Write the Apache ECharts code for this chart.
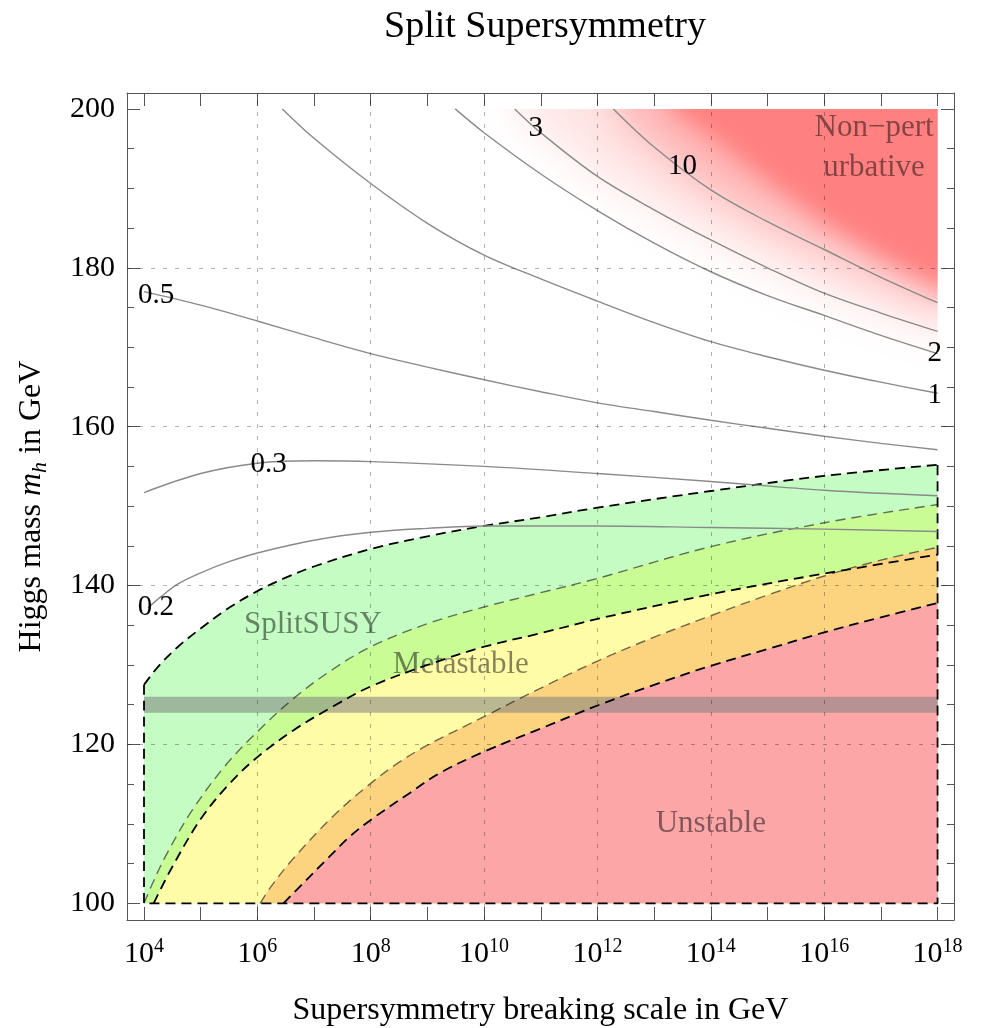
<!DOCTYPE html>
<html>
<head>
<meta charset="utf-8">
<title>Split Supersymmetry</title>
<script src="https://cdn.jsdelivr.net/npm/echarts@6.0.0/dist/echarts.min.js"></script>
<style>
  html, body { margin: 0; padding: 0; background: #fff; }
  #chart { width: 987px; height: 1028px; }
</style>
</head>
<body>
<div id="chart"></div>
<script>
const FONT = '"Liberation Serif", "Times New Roman", Times, serif';

// x is log10 of the breaking scale (GeV), y is m_h (GeV)
const X_MIN = 3.7, X_MAX = 18.29;
const Y_MIN = 97.9, Y_MAX = 202.0;

const xTickValues = [4, 5, 6, 7, 8, 9, 10, 11, 12, 13, 14, 15, 16, 17, 18];
const xLabelValues = [4, 6, 8, 10, 12, 14, 16, 18];
const xGridValues = [6, 8, 10, 12, 14, 16];
const yMajorValues = [100, 120, 140, 160, 180, 200];
const yMinorValues = [105, 110, 115, 125, 130, 135, 145, 150, 155, 165, 170, 175, 185, 190, 195];
const yGridValues = [120, 140, 160, 180];

// contours of the coupling (solid gray)
const contour02 = [[4.07, 137.2], [4.3, 138.6], [4.6, 140.2], [5, 141.6], [5.5, 143.0], [6, 144.1], [7, 145.7], [8, 146.7], [9, 147.2], [10, 147.5], [12, 147.5], [14, 147.3], [16, 147.1], [18, 146.8]];
const contour03 = [[4, 151.7], [5, 154.1], [6, 155.4], [7, 155.7], [8, 155.6], [10, 155.0], [12, 154.1], [14, 153.1], [16, 152.0], [18, 151.3]];
const contour05 = [[4, 177.0], [5, 175.3], [6, 173.3], [7, 171.2], [8, 169.2], [9, 167.5], [10, 165.9], [11, 164.4], [12, 163.0], [13, 161.9], [14, 160.8], [15, 159.8], [16, 158.8], [17, 157.9], [18, 157.1]];
const contour1 = [[6.44, 200], [7, 196.3], [8, 190.6], [9, 185.6], [10, 181.6], [11, 178.6], [12, 175.8], [13, 173.1], [14, 170.7], [15, 168.8], [16, 167.1], [17, 165.6], [18, 164.2]];
const contour2 = [[9.49, 200], [10, 197.0], [11, 191.8], [12, 187.2], [13, 183.1], [14, 179.5], [15, 176.5], [16, 174.0], [17, 171.5], [18, 169.2]];
const contour3 = [[10.54, 200], [11, 197.0], [12, 191.5], [13, 187.3], [14, 183.5], [15, 180.0], [16, 176.8], [17, 174.3], [18, 172.0]];
const contour10 = [[12.28, 200], [13, 195.2], [14, 189.8], [15, 185.8], [16, 182.3], [17, 178.8], [18, 175.6]];
// where the red shading is nearly saturated
const nonPertCore = [[13.3, 200], [14, 196.5], [15, 191.0], [16, 185.8], [17, 181.5], [18, 177.8]];

// stability region boundaries (dashed)
const splitSusyTop = [[4, 127.5], [4.25, 129.8], [4.6, 132.3], [5, 134.6], [5.5, 137.2], [6, 139.3], [6.5, 141.0], [7, 142.4], [8, 144.6], [9, 146.2], [10, 147.5], [11, 148.6], [12, 149.8], [14, 151.9], [16, 153.8], [18, 155.2]];
const metaUpperBand = [[4, 100], [4.15, 102.5], [4.4, 106.2], [4.84, 111.6], [5.42, 117.2], [6, 121.6], [6.64, 125.8], [7.34, 129.5], [8, 132.3], [9, 135.2], [10, 137.3], [11, 139.1], [12, 140.9], [14, 144.9], [16, 147.9], [18, 150.2]];
const metaUpper = [[4.17, 100], [4.5, 104.6], [5, 110.6], [5.5, 115.0], [6, 118.4], [6.64, 121.8], [7.34, 124.8], [8, 127.3], [9, 130.0], [10, 132.3], [11, 134.0], [12, 135.8], [14, 138.9], [16, 141.5], [18, 143.9]];
const unstableBand = [[6.05, 100], [6.25, 102.2], [6.63, 105.6], [7.34, 111.0], [8, 115.1], [8.51, 117.8], [9, 119.9], [10, 123.5], [11, 127.1], [12, 130.5], [13, 133.5], [14, 136.2], [15, 138.8], [16, 141.2], [17, 143.2], [18, 144.8]];
const unstableUpper = [[6.46, 100], [6.75, 102.1], [7.22, 105.5], [7.63, 108.4], [8, 110.5], [8.69, 113.9], [9.22, 116.4], [10, 119.1], [11, 122.0], [12, 124.9], [13, 127.5], [14, 129.9], [15, 132.0], [16, 134.1], [17, 136.0], [18, 137.8]];

const higgsBand = [124, 126];
const scanRange = [4, 18];

const contourLabels = [[4.215, 176.5, '0.5'], [6.2, 155.3, '0.3'], [4.21, 137.3, '0.2'], [10.91, 197.5, '3'], [13.5, 192.7, '10'], [17.95, 169.2, '2'], [17.95, 163.9, '1']];
const regionLabels = [[6.98, 135.0, 'SplitSUSY'], [9.59, 130.0, 'Metastable'], [14.0, 110.0, 'Unstable'], [16.88, 195.1, 'Non\u2212pert\nurbative']];

const FRAME = '#555';
const SMOOTH = 0.35;

function fillSeries(data, color) {
  return {
    type: 'line', data: data, smooth: SMOOTH,
    symbol: 'none', silent: true, animation: false,
    lineStyle: { width: 0 },
    areaStyle: { color: color, opacity: 1, origin: 100 }
  };
}

function dashSeries(data, color, width) {
  return {
    type: 'line', data: data, smooth: SMOOTH,
    symbol: 'none', silent: true, animation: false,
    lineStyle: { color: color, width: width, type: [10, 6] }
  };
}

function contourSeries(data) {
  return {
    type: 'line', data: data, smooth: SMOOTH,
    symbol: 'none', silent: true, animation: false,
    lineStyle: { color: '#8a8a8a', width: 1.4 }
  };
}

function textSeries(data, style) {
  return {
    type: 'scatter', data: data, symbolSize: 0, silent: true, animation: false, z: 10,
    itemStyle: { opacity: 1 },
    label: Object.assign({
      show: true, position: 'inside', fontFamily: FONT,
      formatter: p => p.data[2]
    }, style)
  };
}

// frame of the scanned region: left edge, bottom, right edge
const last = splitSusyTop[splitSusyTop.length - 1];
const regionFrame = [splitSusyTop[0], [scanRange[0], 100], [scanRange[1], 100], last];

// close a contour well past the top/right plot edge, so its blurred edge only shows along the curve
function closeCorner(curve) {
  const end = curve[curve.length - 1];
  return [[curve[0][0], 240]].concat(curve, [[26, end[1]], [26, 240]]);
}
// red layers of the non-perturbative shading: [edge, alpha, blur]
const nonPertLayers = [[contour3, 0.2, 40], [contour10, 0.5, 40], [nonPertCore, 1, 22]];

const chart = echarts.init(document.getElementById('chart'));

const yTick = (vals, len) => ({ inside: true, length: len, customValues: vals, lineStyle: { color: FRAME } });
const xTick = { inside: true, length: 13, customValues: xTickValues, lineStyle: { color: FRAME } };

chart.setOption({
  animation: false,
  backgroundColor: '#fff',
  title: {
    text: 'Split Supersymmetry', left: 540, top: 3, textAlign: 'center',
    textStyle: { fontFamily: FONT, fontSize: 38, fontWeight: 'normal', color: '#000' }
  },
  grid: { left: 127, top: 93, width: 827, height: 827, outerBoundsMode: 'none' },
  xAxis: [
    {
      type: 'value', min: X_MIN, max: X_MAX, position: 'bottom',
      axisLine: { lineStyle: { color: FRAME } },
      axisTick: xTick,
      splitLine: { show: false },
      axisLabel: {
        customValues: xLabelValues, margin: 17,
        formatter: v => '{b|10}{s|' + v + '}',
        rich: {
          b: { fontFamily: FONT, fontSize: 30, color: '#000', lineHeight: 34 },
          s: { fontFamily: FONT, fontSize: 20, color: '#000', lineHeight: 24, verticalAlign: 'top' }
        }
      },
      name: 'Supersymmetry breaking scale in GeV', nameLocation: 'middle', nameGap: 75,
      nameTextStyle: { fontFamily: FONT, fontSize: 32, color: '#000' }
    },
    {
      type: 'value', min: X_MIN, max: X_MAX, position: 'top',
      axisLine: { lineStyle: { color: FRAME } },
      axisTick: xTick, axisLabel: { show: false }, splitLine: { show: false }
    }
  ],
  yAxis: [
    {
      type: 'value', min: Y_MIN, max: Y_MAX, position: 'left',
      axisLine: { lineStyle: { color: FRAME } },
      axisTick: yTick(yMajorValues, 13),
      splitLine: { show: false },
      axisLabel: { customValues: yMajorValues, margin: 12, fontFamily: FONT, fontSize: 30, color: '#000' },
      name: '{n|Higgs mass }{i|m}{h|h}{n| in GeV}', nameLocation: 'middle', nameGap: 76,
      nameTextStyle: {
        rich: {
          n: { fontFamily: FONT, fontSize: 32, color: '#000', lineHeight: 38 },
          i: { fontFamily: FONT, fontSize: 32, fontStyle: 'italic', color: '#000', lineHeight: 38 },
          h: { fontFamily: FONT, fontSize: 22, fontStyle: 'italic', color: '#000', lineHeight: 22, verticalAlign: 'bottom' }
        }
      }
    },
    {
      type: 'value', min: Y_MIN, max: Y_MAX, position: 'left',
      axisLine: { show: false }, axisTick: yTick(yMinorValues, 7),
      axisLabel: { show: false }, splitLine: { show: false }
    },
    {
      type: 'value', min: Y_MIN, max: Y_MAX, position: 'right',
      axisLine: { lineStyle: { color: FRAME } }, axisTick: yTick(yMajorValues, 13),
      axisLabel: { show: false }, splitLine: { show: false }
    },
    {
      type: 'value', min: Y_MIN, max: Y_MAX, position: 'right',
      axisLine: { show: false }, axisTick: yTick(yMinorValues, 7),
      axisLabel: { show: false }, splitLine: { show: false }
    }
  ],
  series: [
    {
      // soft red shading of the non-perturbative corner: blurred shadows of off-screen polygons
      type: 'custom', data: [[0, 0]], silent: true, animation: false,
      renderItem: function (params, api) {
        const tl = api.coord([scanRange[0], 200]);
        const br = api.coord([scanRange[1], 100]);
        const shift = 4000;
        return {
          type: 'group',
          clipPath: { type: 'rect', shape: { x: tl[0], y: tl[1], width: br[0] - tl[0], height: br[1] - tl[1] } },
          children: nonPertLayers.map(([edge, alpha, blur]) => ({
            type: 'polygon', x: shift,
            shape: { points: closeCorner(edge).map(p => api.coord(p)) },
            style: { fill: '#ff8080', shadowColor: 'rgba(255,128,128,' + alpha + ')', shadowBlur: blur, shadowOffsetX: -shift }
          }))
        };
      }
    },
    fillSeries(splitSusyTop, 'rgb(196,252,196)'),
    fillSeries(metaUpperBand, 'rgb(202,252,150)'),
    fillSeries(metaUpper, 'rgb(255,252,168)'),
    fillSeries(unstableBand, 'rgb(252,212,128)'),
    fillSeries(unstableUpper, 'rgb(252,166,168)'),
    dashSeries(splitSusyTop, '#000', 1.8),
    dashSeries(regionFrame, '#000', 1.8),
    dashSeries(metaUpperBand, 'rgba(0,0,0,0.55)', 1.4),
    dashSeries(metaUpper, '#000', 1.8),
    dashSeries(unstableBand, 'rgba(0,0,0,0.55)', 1.4),
    dashSeries(unstableUpper, '#000', 1.8),
    Object.assign(contourSeries(contour02), {
      markLine: {
        silent: true, symbol: ['none', 'none'], label: { show: false }, animation: false,
        lineStyle: { color: 'rgba(0,0,0,0.3)', width: 1, type: [4, 8] },
        data: xGridValues.map(v => ({ xAxis: v })).concat(yGridValues.map(v => ({ yAxis: v })))
      }
    }),
    contourSeries(contour03),
    contourSeries(contour05),
    contourSeries(contour1),
    contourSeries(contour2),
    contourSeries(contour3),
    contourSeries(contour10),
    {
      type: 'line', data: [[scanRange[0], higgsBand[1]], [scanRange[1], higgsBand[1]]],
      symbol: 'none', silent: true, animation: false,
      lineStyle: { width: 0 },
      areaStyle: { color: 'rgba(128,128,128,0.55)', opacity: 1, origin: higgsBand[0] }
    },
    textSeries(contourLabels, { fontSize: 29, color: '#000' }),
    textSeries(regionLabels, { fontSize: 31, color: 'rgba(0,0,0,0.48)', lineHeight: 40 })
  ]
});
</script>
</body>
</html>
